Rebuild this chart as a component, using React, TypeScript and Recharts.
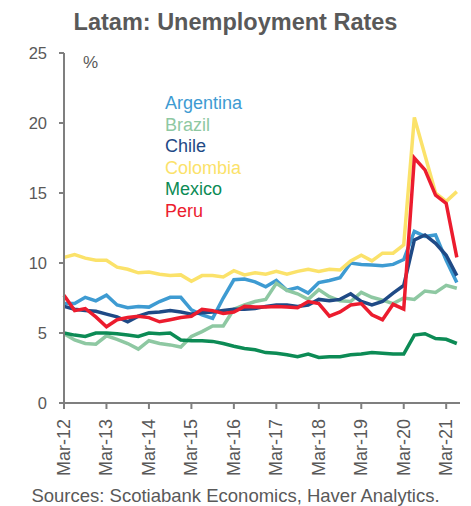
import { Legend, Line, LineChart, XAxis, YAxis } from 'recharts'

const quarters = [
  'Mar-12', 'Jun-12', 'Sep-12', 'Dec-12', 'Mar-13', 'Jun-13', 'Sep-13', 'Dec-13',
  'Mar-14', 'Jun-14', 'Sep-14', 'Dec-14', 'Mar-15', 'Jun-15', 'Sep-15', 'Dec-15',
  'Mar-16', 'Jun-16', 'Sep-16', 'Dec-16', 'Mar-17', 'Jun-17', 'Sep-17', 'Dec-17',
  'Mar-18', 'Jun-18', 'Sep-18', 'Dec-18', 'Mar-19', 'Jun-19', 'Sep-19', 'Dec-19',
  'Mar-20', 'Jun-20', 'Sep-20', 'Dec-20', 'Mar-21', 'Jun-21',
]

const tickLabels = ['Mar-12', 'Mar-13', 'Mar-14', 'Mar-15', 'Mar-16', 'Mar-17', 'Mar-18', 'Mar-19', 'Mar-20', 'Mar-21']
const yTicks = [0, 5, 10, 15, 20, 25]

const argentina = [
  7.1, 7.1, 7.55, 7.3, 7.7, 7.0, 6.8, 6.9, 6.85, 7.25,
  7.55, 7.55, 6.65, 6.3, 6.05, 7.5, 8.8, 8.85, 8.65, 8.3,
  8.75, 8.05, 8.25, 7.85, 8.6, 8.75, 8.95, 10.0, 9.9, 9.85,
  9.8, 9.9, 10.25, 12.25, 11.9, 12.0, 10.2, 8.6,
]
const brazil = [
  4.95, 4.5, 4.25, 4.2, 4.8, 4.55, 4.25, 3.85, 4.45, 4.25,
  4.15, 4.0, 4.75, 5.1, 5.5, 5.5, 6.7, 7.0, 7.25, 7.4,
  8.55, 8.05, 7.8, 7.4, 8.1, 7.6, 7.3, 7.25, 7.9, 7.55,
  7.35, 7.1, 7.5, 7.4, 8.0, 7.9, 8.4, 8.2,
]
const chile = [
  6.9, 6.7, 6.6, 6.55, 6.35, 6.15, 5.8, 6.2, 6.45, 6.5,
  6.6, 6.5, 6.35, 6.45, 6.5, 6.6, 6.7, 6.7, 6.75, 6.9,
  7.0, 7.0, 6.9, 7.0, 7.4, 7.3, 7.4, 7.8, 7.25, 7.0,
  7.25, 7.85, 8.4, 11.65, 12.0, 11.4, 10.55, 9.1,
]
const colombia = [
  10.4, 10.6, 10.35, 10.2, 10.2, 9.7, 9.55, 9.3, 9.35, 9.2,
  9.1, 9.15, 8.7, 9.1, 9.1, 9.0, 9.45, 9.15, 9.3, 9.2,
  9.4, 9.2, 9.4, 9.55, 9.4, 9.55, 9.5, 10.15, 10.55, 10.15,
  10.7, 10.7, 11.3, 20.4, 17.7, 15.0, 14.4, 15.1,
]
const mexico = [
  5.0, 4.85, 4.75, 5.0, 5.0, 4.95, 4.85, 4.75, 5.0, 4.95,
  5.0, 4.5, 4.45, 4.45, 4.4, 4.25, 4.05, 3.9, 3.8, 3.6,
  3.55, 3.45, 3.3, 3.5, 3.25, 3.3, 3.3, 3.45, 3.5, 3.6,
  3.55, 3.5, 3.5, 4.85, 4.95, 4.6, 4.55, 4.25,
]
const peru = [
  7.7, 6.6, 6.75, 6.15, 5.45, 5.95, 6.1, 6.2, 6.1, 5.8,
  5.95, 6.1, 6.2, 6.7, 6.6, 6.4, 6.5, 6.9, 6.85, 6.85,
  6.9, 6.85, 6.8, 7.25, 7.1, 6.2, 6.5, 7.0, 7.1, 6.3,
  5.95, 7.05, 6.7, 17.5, 16.65, 14.85, 14.25, 10.4,
]

const series = [
  { key: 'Argentina', values: argentina, color: '#3e9bd2' },
  { key: 'Brazil', values: brazil, color: '#8ec8a2' },
  { key: 'Chile', values: chile, color: '#1f4a86' },
  { key: 'Colombia', values: colombia, color: '#fbe26a' },
  { key: 'Mexico', values: mexico, color: '#0c8b55' },
  { key: 'Peru', values: peru, color: '#ec1c2e' },
]

const data = quarters.map((q, i) => {
  const row: Record<string, number | string> = { idx: i, date: q }
  series.forEach((s) => {
    row[s.key] = s.values[i]
  })
  return row
})

const font = '"Liberation Sans", Arial, sans-serif'
const textColor = '#595959'
const axisColor = '#7f7f7f'

function XTick({ x, y, payload }: any) {
  const label = quarters[payload.value]
  return (
    <text
      x={0}
      y={0}
      transform={`translate(${x + 6},${y + 8}) rotate(-90)`}
      textAnchor='end'
      fill={textColor}
      fontSize={18}
      fontFamily={font}
    >
      {label}
    </text>
  )
}

function LegendText() {
  return (
    <div style={{ fontFamily: font, fontSize: 18, lineHeight: '21.5px' }}>
      {series.map((s) => (
        <div key={s.key} style={{ color: s.color }}>{s.key}</div>
      ))}
    </div>
  )
}

export default function App() {
  const tickIdx = tickLabels.map((t) => quarters.indexOf(t))
  return (
    <div style={{ position: 'absolute', left: 0, top: 0, width: 471, height: 506, background: '#fff', fontFamily: font }}>
      <div style={{ position: 'absolute', top: 9, width: 471, textAlign: 'center', fontWeight: 'bold', fontSize: 23.5, color: textColor }}>
        Latam: Unemployment Rates
      </div>
      <div style={{ position: 'absolute', left: 83, top: 53, fontSize: 17, color: textColor }}>%</div>
      <LineChart width={471} height={506} data={data} margin={{ top: 53, right: 11, bottom: 43, left: 8 }}>
        <XAxis
          dataKey='idx'
          type='number'
          domain={[0, 37.3]}
          ticks={tickIdx}
          tick={<XTick />}
          stroke={axisColor}
          strokeWidth={2}
          tickSize={6}
          height={60}
          interval={0}
        />
        <YAxis
          domain={[0, 25]}
          ticks={yTicks}
          stroke={axisColor}
          strokeWidth={2}
          tickSize={5}
          tickMargin={12}
          width={56}
          interval={0}
          tick={{ fill: textColor, fontSize: 16.5, fontFamily: font }}
        />
        <Legend
          layout='vertical'
          verticalAlign='middle'
          align='center'
          content={<LegendText />}
          wrapperStyle={{ left: 165, top: 93, width: 120 }}
        />
        {series.map((s) => (
          <Line
            key={s.key}
            dataKey={s.key}
            stroke={s.color}
            strokeWidth={3.5}
            dot={false}
            isAnimationActive={false}
            strokeLinejoin='miter'
          />
        ))}
      </LineChart>
      <div style={{ position: 'absolute', top: 485, width: 471, textAlign: 'center', fontSize: 18.5, color: textColor }}>
        Sources: Scotiabank Economics, Haver Analytics.
      </div>
    </div>
  )
}
